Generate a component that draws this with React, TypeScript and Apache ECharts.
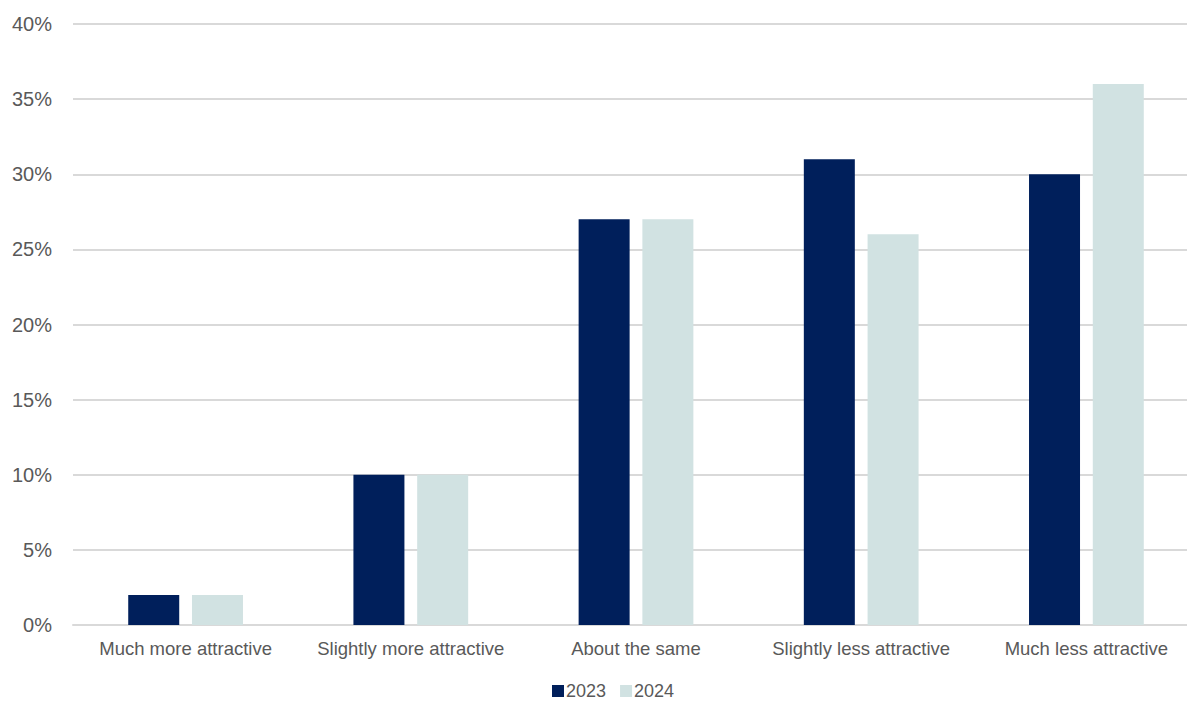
import React, { useEffect, useRef } from "react";
import * as echarts from "echarts";

const categories = [
  "Much more attractive",
  "Slightly more attractive",
  "About the same",
  "Slightly less attractive",
  "Much less attractive",
];
const values2023 = [2, 10, 27, 31, 30];
const values2024 = [2, 10, 27, 26, 36];

export default function App() {
  const ref = useRef<HTMLDivElement>(null);
  useEffect(() => {
    const chart = echarts.init(ref.current!, null, { renderer: "svg" });
    const font = "'Liberation Sans', Arial, sans-serif";
    chart.setOption({
      animation: false,
      textStyle: { fontFamily: font },
      grid: { left: 73, right: 0, top: 24, bottom: 77, containLabel: false },
      legend: {
        left: 552,
        top: 682,
        itemWidth: 12,
        itemHeight: 12,
        itemGap: 14,
        icon: "rect",
        padding: 0,
        textStyle: { fontSize: 18, color: "#595959", fontFamily: font, padding: [0, 0, 0, -3] },
        data: ["2023", "2024"],
      },
      xAxis: {
        type: "category",
        data: categories,
        axisLine: { lineStyle: { color: "#D9D9D9", width: 2 } },
        axisTick: { show: false },
        axisLabel: { color: "#595959", fontSize: 18.5, margin: 14, fontFamily: font, interval: 0 },
      },
      yAxis: {
        type: "value",
        min: 0,
        max: 40,
        interval: 5,
        axisLine: { show: false },
        axisTick: { show: false },
        splitLine: { lineStyle: { color: "#D9D9D9", width: 2 } },
        axisLabel: {
          color: "#595959",
          fontSize: 20,
          margin: 21,
          fontFamily: font,
          formatter: "{value}%",
        },
      },
      series: [
        {
          name: "2023",
          type: "bar",
          data: values2023,
          barWidth: 51,
          barGap: "25%",
          itemStyle: { color: "#001F5B" },
        },
        {
          name: "2024",
          type: "bar",
          data: values2024,
          barWidth: 51,
          barGap: "25%",
          itemStyle: { color: "#D1E2E2" },
        },
      ],
    });
    return () => chart.dispose();
  }, []);
  return (
    <div style={{ position: "fixed", left: 0, top: 0, width: 1187, height: 702, overflow: "hidden", background: "#fff" }}>
      <div ref={ref} style={{ position: "absolute", left: 0, top: 0, width: 1199, height: 702 }} />
    </div>
  );
}
